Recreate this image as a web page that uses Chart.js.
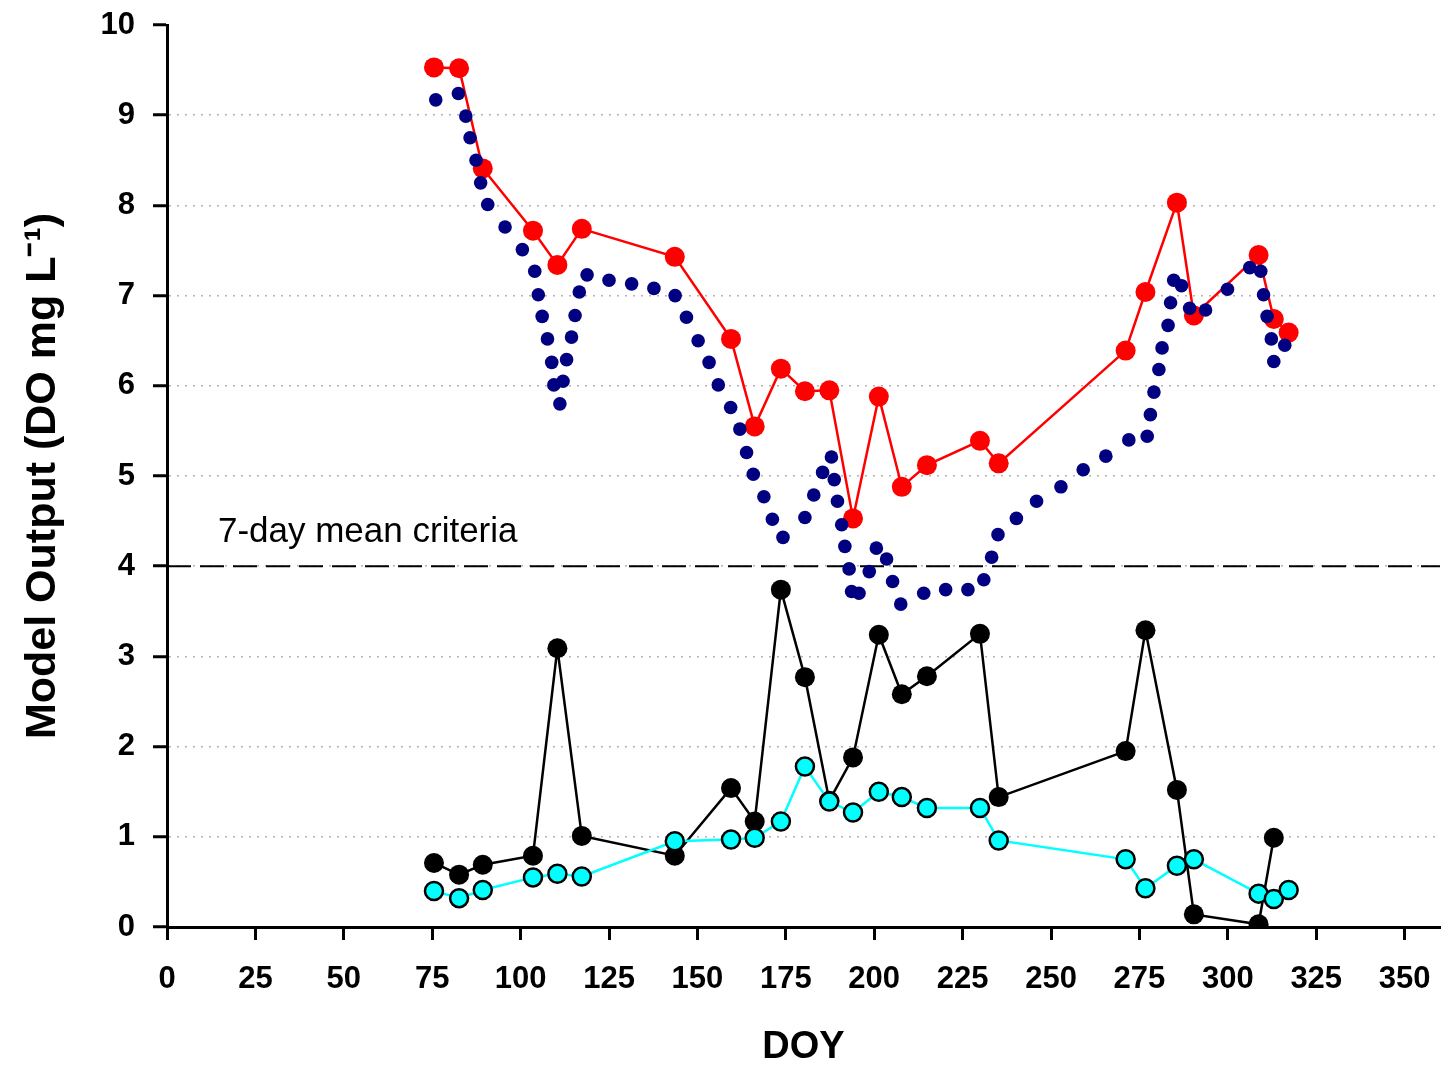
<!DOCTYPE html>
<html>
<head>
<meta charset="utf-8">
<script src="https://cdn.jsdelivr.net/npm/chart.js@4.4.1/dist/chart.umd.min.js"></script>
<style>
  html, body { margin: 0; padding: 0; background: #fff; }
  canvas { display: block; }
</style>
</head>
<body>
<canvas id="chart1" width="1441" height="1075"></canvas>
<script>
// sampling days (DOY) of the observed series
const sampleDay = [75.5, 82.6, 89.3, 103.5, 110.4, 117.3, 143.6, 159.5, 166.2, 173.6, 180.4, 187.3, 194.0,
    201.3, 207.8, 214.9, 229.9, 235.2, 271.1, 276.7, 285.6, 290.4, 308.7, 313.0, 317.2];
const redValues = [9.53, 9.52, 8.41, 7.72, 7.34, 7.74, 7.43, 6.52, 5.55, 6.19, 5.94, 5.95, 4.53,
    5.88, 4.88, 5.12, 5.39, 5.14, 6.39, 7.04, 8.03, 6.78, 7.45, 6.74, 6.59];
const blackValues = [0.71, 0.58, 0.69, 0.79, 3.09, 1.01, 0.79, 1.54, 1.17, 3.74, 2.77, 1.40, 1.88,
    3.24, 2.58, 2.78, 3.25, 1.44, 1.95, 3.29, 1.52, 0.14, 0.03, 0.99, null];
const cyanValues = [0.40, 0.32, 0.41, 0.55, 0.59, 0.56, 0.95, 0.97, 0.99, 1.17, 1.78, 1.39, 1.27,
    1.50, 1.44, 1.32, 1.32, 0.96, 0.75, 0.43, 0.68, 0.75, 0.37, 0.31, 0.41];

// dotted model curve
const modelDay = [76.0, 82.4, 84.5, 85.7, 87.4, 88.7, 90.7, 95.6, 100.5, 104.0, 105.0, 106.1, 107.6, 108.8,
    109.4, 111.1, 112.0, 113.0, 114.4, 115.4, 116.6, 118.8, 125.0, 131.4, 137.7, 143.7, 146.9, 150.2,
    153.3, 155.9, 159.4, 162.0, 163.9, 165.8, 168.8, 171.2, 174.2, 180.4, 182.9, 185.4, 187.9, 188.7,
    189.6, 190.8, 191.7, 192.9, 193.6, 195.7, 198.6, 200.6, 203.5, 205.2, 207.5, 214.0, 220.2, 226.5,
    231.0, 233.2, 235.0, 240.2, 245.9, 252.8, 259.1, 265.5, 272.0, 277.2, 278.1, 279.1, 280.5, 281.4,
    283.1, 283.8, 284.7, 286.9, 289.2, 293.7, 299.9, 306.2, 309.3, 310.1, 311.1, 312.3, 313.0, 316.1];
const modelValues = [9.17, 9.24, 8.99, 8.75, 8.50, 8.25, 8.01, 7.76, 7.51, 7.27, 7.01, 6.77, 6.52, 6.26,
    6.01, 5.80, 6.05, 6.29, 6.54, 6.78, 7.04, 7.23, 7.17, 7.13, 7.08, 7.00, 6.76, 6.50,
    6.26, 6.01, 5.76, 5.52, 5.26, 5.02, 4.77, 4.52, 4.32, 4.54, 4.79, 5.04, 5.21, 4.96,
    4.72, 4.46, 4.22, 3.97, 3.72, 3.70, 3.94, 4.20, 4.08, 3.83, 3.58, 3.70, 3.74, 3.74,
    3.85, 4.10, 4.35, 4.53, 4.72, 4.88, 5.07, 5.22, 5.40, 5.44, 5.68, 5.93, 6.18, 6.42,
    6.67, 6.92, 7.17, 7.11, 6.86, 6.84, 7.07, 7.31, 7.27, 7.01, 6.77, 6.52, 6.27, 6.45];

const criteriaValue = 4;
const criteriaText = '7-day mean criteria';
const criteriaTextAt = [14.4, 4.27];

const xTickStep = 25;
const yTickStep = 1;

const fontFamily = '"Liberation Sans", Arial, sans-serif';

function pairs(xs, ys) {
    return xs.map((x, i) => ({ x: x, y: ys[i] }));
}

const criteriaLabel = {
    id: 'criteriaLabel',
    afterDatasetsDraw(chart) {
        const { ctx, scales } = chart;
        ctx.save();
        ctx.font = '35px ' + fontFamily;
        ctx.fillStyle = '#000';
        ctx.textAlign = 'left';
        ctx.textBaseline = 'alphabetic';
        ctx.fillText(criteriaText, scales.x.getPixelForValue(criteriaTextAt[0]), scales.y.getPixelForValue(criteriaTextAt[1]));
        ctx.restore();
    }
};

const data1 = {
    datasets: [
        {
            data: [{ x: 0, y: criteriaValue }, { x: 360, y: criteriaValue }],
            borderColor: '#000',
            borderWidth: 2,
            borderDash: [24, 9],
            pointRadius: 0,
            showLine: true,
            order: 6
        },
        {
            data: pairs(sampleDay, redValues),
            borderColor: '#ff0000',
            backgroundColor: '#ff0000',
            borderWidth: 2.5,
            pointRadius: 10,
            pointBorderWidth: 0,
            showLine: true,
            order: 5
        },
        {
            data: pairs(modelDay, modelValues),
            backgroundColor: '#000080',
            borderColor: '#000080',
            pointRadius: 6.8,
            pointBorderWidth: 0,
            showLine: false,
            order: 4
        },
        {
            data: pairs(sampleDay, blackValues),
            borderColor: '#000',
            backgroundColor: '#000',
            borderWidth: 2.5,
            pointRadius: 10,
            pointBorderWidth: 0,
            showLine: true,
            spanGaps: false,
            order: 3
        },
        {
            data: pairs(sampleDay, cyanValues),
            borderColor: '#00ffff',
            backgroundColor: '#00ffff',
            borderWidth: 2.5,
            pointRadius: 9,
            pointBorderColor: '#000',
            pointBorderWidth: 2.5,
            showLine: true,
            order: 2
        }
    ]
};

const config1 = {
    type: 'scatter',
    data: data1,
    plugins: [criteriaLabel],
    options: {
        responsive: false,
        animation: false,
        devicePixelRatio: 1,
        layout: { autoPadding: false, padding: { top: 25, right: 1, left: 0, bottom: 0 } },
        plugins: {
            legend: { display: false },
            tooltip: { enabled: false }
        },
        scales: {
            x: {
                type: 'linear',
                min: 0,
                max: 360,
                afterFit: (scale) => {
                    scale.height = 148;
                    scale.paddingLeft = 0;
                    scale.paddingRight = 0;
                },
                ticks: {
                    stepSize: xTickStep,
                    includeBounds: false,
                    autoSkip: false,
                    maxRotation: 0,
                    padding: 21,
                    color: '#000',
                    font: { family: fontFamily, size: 31, weight: 'bold' }
                },
                grid: {
                    drawOnChartArea: false,
                    drawTicks: true,
                    tickLength: 13,
                    tickWidth: 3,
                    tickColor: '#000'
                },
                border: { color: '#000', width: 3 },
                title: {
                    display: true,
                    text: 'DOY',
                    color: '#000',
                    font: { family: fontFamily, size: 38, weight: 'bold' },
                    padding: { top: 0, bottom: 5 }
                }
            },
            y: {
                min: 0,
                max: 10,
                afterFit: (scale) => {
                    scale.width = 167;
                    scale.paddingTop = 0;
                    scale.paddingBottom = 0;
                },
                ticks: {
                    stepSize: yTickStep,
                    padding: 18,
                    color: '#000',
                    font: { family: fontFamily, size: 31, weight: 'bold' }
                },
                grid: {
                    drawOnChartArea: true,
                    color: (c) => (c.tick && (c.tick.value === 0 || c.tick.value === 10)) ? 'rgba(0,0,0,0)' : '#b4b4b4',
                    lineWidth: 1.5,
                    tickLength: 14,
                    tickWidth: 3,
                    tickColor: '#000'
                },
                border: { color: '#000', width: 3, dash: [2, 6] },
                title: {
                    display: true,
                    text: 'Model Output (DO mg L\u207B\u00B9)',
                    color: '#000',
                    font: { family: fontFamily, size: 43, weight: 'bold' },
                    padding: { top: 17, bottom: 0 }
                }
            }
        }
    }
};

const myChart1 = new Chart(document.getElementById('chart1').getContext('2d'), config1);
</script>
</body>
</html>
